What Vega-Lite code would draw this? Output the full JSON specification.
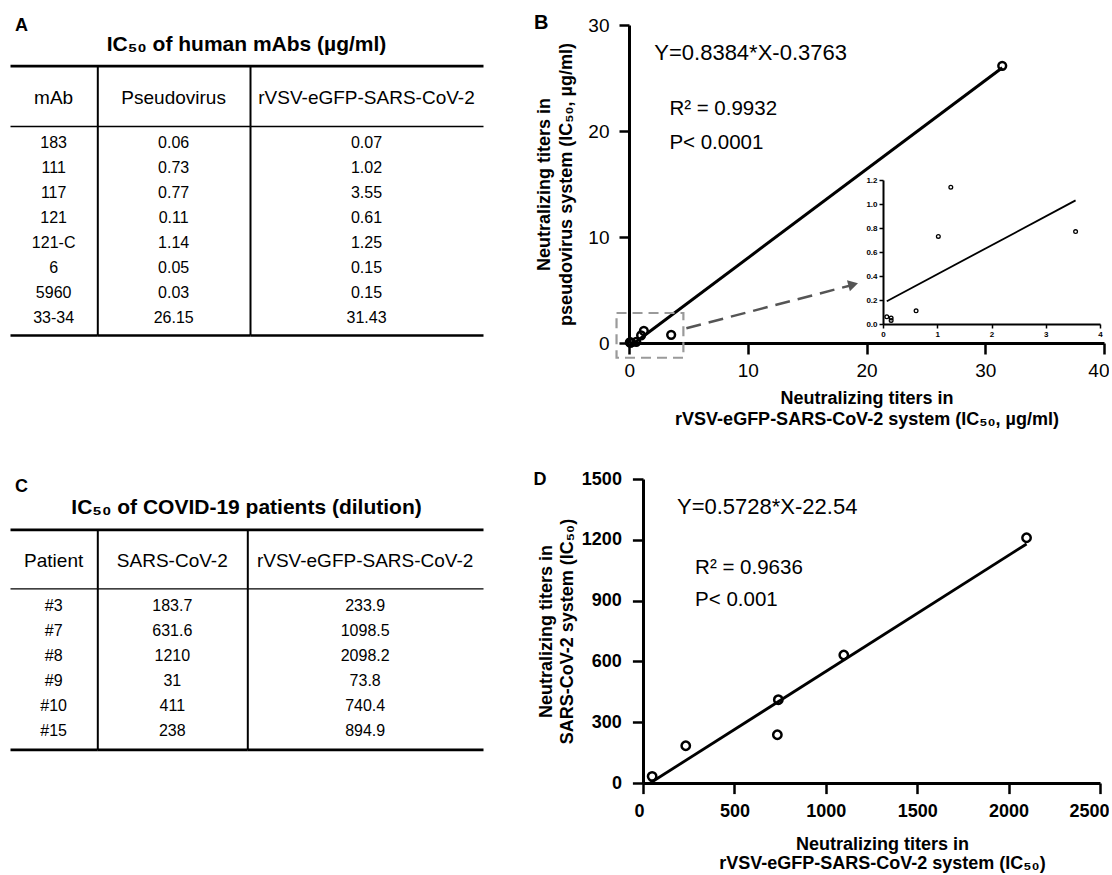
{
 "$schema": "https://vega.github.io/schema/vega-lite/v6.json",
 "padding": {"left": 10, "top": 13, "right": 0, "bottom": 0},
 "config": {
  "font": "Liberation Sans",
  "view": {"stroke": null},
  "axis": {"grid": false, "domainColor": "#000", "tickColor": "#000", "labelColor": "#000", "titleColor": "#000"},
  "text": {"color": "#000"},
  "title": {"color": "#000"}
 },
 "datasets": {
  "mabs": [
   {"mAb": "183", "pseudo": 0.06, "rvsv": 0.07},
   {"mAb": "111", "pseudo": 0.73, "rvsv": 1.02},
   {"mAb": "117", "pseudo": 0.77, "rvsv": 3.55},
   {"mAb": "121", "pseudo": 0.11, "rvsv": 0.61},
   {"mAb": "121-C", "pseudo": 1.14, "rvsv": 1.25},
   {"mAb": "6", "pseudo": 0.05, "rvsv": 0.15},
   {"mAb": "5960", "pseudo": 0.03, "rvsv": 0.15},
   {"mAb": "33-34", "pseudo": 26.15, "rvsv": 31.43}
  ],
  "patients": [
   {"Patient": "#3", "sars": 183.7, "rvsv": 233.9},
   {"Patient": "#7", "sars": 631.6, "rvsv": 1098.5},
   {"Patient": "#8", "sars": 1210, "rvsv": 2098.2},
   {"Patient": "#9", "sars": 31, "rvsv": 73.8},
   {"Patient": "#10", "sars": 411, "rvsv": 740.4},
   {"Patient": "#15", "sars": 238, "rvsv": 894.9}
  ],
  "pointsD": [
   {"rvsv": 233.9, "sars": 183.7},
   {"rvsv": 1098.5, "sars": 631.6},
   {"rvsv": 2098.2, "sars": 1210},
   {"rvsv": 50, "sars": 33},
   {"rvsv": 740.4, "sars": 411},
   {"rvsv": 735, "sars": 238}
  ],
  "fitB": [{"x": 0.449, "y": 0}, {"x": 31.43, "y": 25.97}],
  "fitInset": [{"x": 0.07, "y": 0.19}, {"x": 3.55, "y": 1.03}],
  "fitD": [{"x": 39.35, "y": 0}, {"x": 2098.2, "y": 1179.3}],
  "heads": [
   {"table": "A", "col": "mAb", "label": "mAb"},
   {"table": "A", "col": "pseudo", "label": "Pseudovirus"},
   {"table": "A", "col": "rvsv", "label": "rVSV-eGFP-SARS-CoV-2"},
   {"table": "C", "col": "Patient", "label": "Patient"},
   {"table": "C", "col": "sars", "label": "SARS-CoV-2"},
   {"table": "C", "col": "rvsv", "label": "rVSV-eGFP-SARS-CoV-2"}
  ],
  "tableTitles": [
   {"panel": "A", "title": "IC₅₀ of human mAbs (µg/ml)"},
   {"panel": "C", "title": "IC₅₀ of COVID-19 patients (dilution)"}
  ]
 },
 "spacing": 42,
 "vconcat": [
  {
   "bounds": "flush",
   "spacing": 146,
   "hconcat": [
    {
     "width": 473, "height": 318,
     "title": {"text": "A", "anchor": "start", "frame": "group", "fontSize": 18, "fontWeight": "bold", "dx": 5, "offset": -10},
     "resolve": {"scale": {"x": "independent", "y": "independent"}},
     "layer": [
      {
       "data": {"name": "tableTitles"},
       "transform": [{"filter": "datum.panel === 'A'"}],
       "mark": {"type": "text", "fontSize": 21, "fontWeight": "bold", "baseline": "middle"},
       "encoding": {
        "text": {"field": "title", "type": "nominal"},
        "x": {"field": "panel", "type": "nominal", "scale": {"range": [0, 473]}, "axis": {"orient": "top", "offset": -40.7, "domainWidth": 2.7, "ticks": false, "labels": false, "title": null}},
        "y": {"field": "panel", "type": "nominal", "scale": {"range": [0, 40.7]}, "axis": null}
       }
      },
      {
       "data": {"name": "heads"},
       "transform": [{"filter": "datum.table === 'A' && datum.col === 'mAb'"}],
       "mark": {"type": "text", "fontSize": 19, "baseline": "middle", "dy": 2},
       "encoding": {
        "text": {"field": "label", "type": "nominal"},
        "x": {"field": "col", "type": "nominal", "scale": {"range": [0, 87.3]}, "axis": {"orient": "top", "offset": -101, "domainWidth": 1.3, "ticks": false, "labels": false, "title": null}},
        "y": {"field": "col", "type": "nominal", "scale": {"range": [40.7, 101]}, "axis": null}
       }
      },
      {
       "data": {"name": "heads"},
       "transform": [{"filter": "datum.table === 'A' && datum.col === 'pseudo'"}],
       "mark": {"type": "text", "fontSize": 19, "baseline": "middle", "dy": 2},
       "encoding": {
        "text": {"field": "label", "type": "nominal"},
        "x": {"field": "col", "type": "nominal", "scale": {"range": [87.3, 240]}, "axis": {"orient": "top", "offset": -101, "domainWidth": 1.3, "ticks": false, "labels": false, "title": null}},
        "y": {"field": "col", "type": "nominal", "scale": {"range": [40.7, 101]}, "axis": {"orient": "left", "offset": -87.3, "domainWidth": 2, "ticks": false, "labels": false, "title": null}}
       }
      },
      {
       "data": {"name": "heads"},
       "transform": [{"filter": "datum.table === 'A' && datum.col === 'rvsv'"}],
       "mark": {"type": "text", "fontSize": 19, "baseline": "middle", "dy": 2},
       "encoding": {
        "text": {"field": "label", "type": "nominal"},
        "x": {"field": "col", "type": "nominal", "scale": {"range": [240, 473]}, "axis": {"orient": "top", "offset": -101, "domainWidth": 1.3, "ticks": false, "labels": false, "title": null}},
        "y": {"field": "col", "type": "nominal", "scale": {"range": [40.7, 101]}, "axis": {"orient": "left", "offset": -240, "domainWidth": 2, "ticks": false, "labels": false, "title": null}}
       }
      },
      {
       "data": {"name": "mabs"},
       "transform": [{"fold": ["mAb", "pseudo", "rvsv"]}, {"filter": "datum.key === 'mAb'"}],
       "mark": {"type": "text", "fontSize": 16, "baseline": "middle"},
       "encoding": {
        "text": {"field": "value", "type": "nominal"},
        "x": {"field": "key", "type": "nominal", "scale": {"range": [0, 87.3]}, "axis": {"orient": "bottom", "offset": -8, "domainWidth": 2.7, "ticks": false, "labels": false, "title": null}},
        "y": {"field": "mAb", "type": "nominal", "sort": null, "scale": {"type": "point", "range": [101, 310], "padding": 0.68}, "axis": null}
       }
      },
      {
       "data": {"name": "mabs"},
       "transform": [{"fold": ["mAb", "pseudo", "rvsv"]}, {"filter": "datum.key === 'pseudo'"}],
       "mark": {"type": "text", "fontSize": 16, "baseline": "middle"},
       "encoding": {
        "text": {"field": "value", "type": "nominal"},
        "x": {"field": "key", "type": "nominal", "scale": {"range": [87.3, 240]}, "axis": {"orient": "bottom", "offset": -8, "domainWidth": 2.7, "ticks": false, "labels": false, "title": null}},
        "y": {"field": "mAb", "type": "nominal", "sort": null, "scale": {"type": "point", "range": [101, 310], "padding": 0.68}, "axis": {"orient": "left", "offset": -87.3, "domainWidth": 2, "ticks": false, "labels": false, "title": null}}
       }
      },
      {
       "data": {"name": "mabs"},
       "transform": [{"fold": ["mAb", "pseudo", "rvsv"]}, {"filter": "datum.key === 'rvsv'"}],
       "mark": {"type": "text", "fontSize": 16, "baseline": "middle"},
       "encoding": {
        "text": {"field": "value", "type": "nominal"},
        "x": {"field": "key", "type": "nominal", "scale": {"range": [240, 473]}, "axis": {"orient": "bottom", "offset": -8, "domainWidth": 2.7, "ticks": false, "labels": false, "title": null}},
        "y": {"field": "mAb", "type": "nominal", "sort": null, "scale": {"type": "point", "range": [101, 310], "padding": 0.68}, "axis": {"orient": "left", "offset": -240, "domainWidth": 2, "ticks": false, "labels": false, "title": null}}
       }
      }
     ]
    },
    {
     "width": 475, "height": 318,
     "title": {"text": "B", "anchor": "start", "frame": "group", "fontSize": 20, "fontWeight": "bold", "dx": -95, "offset": -17},
     "resolve": {"scale": {"x": "independent", "y": "independent"}},
     "layer": [
      {
       "layer": [
        {
         "data": {"name": "mabs"},
         "mark": {"type": "point", "filled": false, "stroke": "#000", "strokeWidth": 2.5, "size": 60, "opacity": 1},
         "encoding": {
          "x": {"field": "rvsv", "type": "quantitative", "scale": {"domain": [0, 40], "nice": false, "zero": false},
           "axis": {"values": [0, 10, 20, 30, 40], "format": "d", "title": ["Neutralizing titers in", "rVSV-eGFP-SARS-CoV-2 system (IC₅₀, µg/ml)"], "titleFontSize": 18, "titleFontWeight": "bold", "titleLineHeight": 21, "titlePadding": 9, "labelFontSize": 19, "labelFontWeight": "normal", "labelPadding": 7, "tickSize": 11, "tickWidth": 2.5, "domainWidth": 3, "labelFlush": true, "labelFlushOffset": 5, "labelOverlap": false}},
          "y": {"field": "pseudo", "type": "quantitative", "scale": {"domain": [0, 30], "nice": false, "zero": false},
           "axis": {"values": [0, 10, 20, 30], "format": "d", "title": ["Neutralizing titers in", "pseudovirus system (IC₅₀, µg/ml)"], "titleFontSize": 18, "titleFontWeight": "bold", "titleLineHeight": 22, "titlePadding": 12, "labelFontSize": 19, "labelFontWeight": "normal", "labelPadding": 10, "tickSize": 10, "tickWidth": 2.5, "domainWidth": 3, "labelFlush": false, "labelOverlap": false}}
         }
        },
        {
         "data": {"name": "fitB"},
         "mark": {"type": "line", "stroke": "#000", "strokeWidth": 3},
         "encoding": {
          "x": {"field": "x", "type": "quantitative"},
          "y": {"field": "y", "type": "quantitative"}
         }
        },
        {
         "data": {"values": [{"label": "zoom"}]},
         "mark": {"type": "rect", "fillOpacity": 0, "stroke": "#9a9a9a", "strokeWidth": 2.2, "strokeDash": [10, 6]},
         "encoding": {
          "x": {"datum": -1.05, "type": "quantitative"},
          "x2": {"datum": 4.58},
          "y": {"datum": -1.39, "type": "quantitative"},
          "y2": {"datum": 2.83}
         }
        },
        {
         "data": {"values": [{"label": "arrow"}]},
         "mark": {"type": "rule", "stroke": "#555", "strokeWidth": 2.5, "strokeDash": [15, 8]},
         "encoding": {
          "x": {"datum": 4.83, "type": "quantitative"},
          "y": {"datum": 1.39, "type": "quantitative"},
          "x2": {"datum": 18.9},
          "y2": {"datum": 5.5}
         }
        },
        {
         "data": {"values": [{"label": "arrowhead"}]},
         "mark": {"type": "point", "shape": "triangle-right", "filled": true, "fill": "#555", "stroke": null, "size": 130, "angle": -14.7, "opacity": 1},
         "encoding": {
          "x": {"datum": 18.88, "type": "quantitative"},
          "y": {"datum": 5.51, "type": "quantitative"}
         }
        },
        {
         "data": {"values": [{"label": "Y=0.8384*X-0.3763"}]},
         "mark": {"type": "text", "align": "left", "baseline": "middle", "fontSize": 22},
         "encoding": {
          "text": {"field": "label", "type": "nominal"},
          "x": {"datum": 2.13, "type": "quantitative"},
          "y": {"datum": 27.4, "type": "quantitative"}
         }
        },
        {
         "data": {"values": [{"label": "R² = 0.9932"}]},
         "mark": {"type": "text", "align": "left", "baseline": "middle", "fontSize": 20.5},
         "encoding": {
          "text": {"field": "label", "type": "nominal"},
          "x": {"datum": 3.4, "type": "quantitative"},
          "y": {"datum": 22.05, "type": "quantitative"}
         }
        },
        {
         "data": {"values": [{"label": "P< 0.0001"}]},
         "mark": {"type": "text", "align": "left", "baseline": "middle", "fontSize": 20.5},
         "encoding": {
          "text": {"field": "label", "type": "nominal"},
          "x": {"datum": 3.4, "type": "quantitative"},
          "y": {"datum": 18.9, "type": "quantitative"}
         }
        }
       ]
      },
      {
       "layer": [
        {
         "data": {"name": "fitInset"},
         "mark": {"type": "line", "stroke": "#000", "strokeWidth": 1.8},
         "encoding": {
          "x": {"field": "x", "type": "quantitative", "scale": {"domain": [0, 4], "range": [254, 471], "nice": false, "zero": false},
           "axis": {"orient": "bottom", "offset": -19, "values": [0, 1, 2, 3, 4], "format": "d", "title": null, "labelFontSize": 8, "labelFontWeight": "bold", "labelPadding": 2, "tickSize": 4, "tickWidth": 1.5, "domainWidth": 2, "labelFlush": false, "labelOverlap": false}},
          "y": {"field": "y", "type": "quantitative", "scale": {"domain": [0, 1.2], "range": [299, 155], "nice": false, "zero": false},
           "axis": {"orient": "left", "offset": -254, "values": [0, 0.2, 0.4, 0.6, 0.8, 1, 1.2], "format": ".1f", "title": null, "labelFontSize": 8, "labelFontWeight": "bold", "labelPadding": 2, "tickSize": 4, "tickWidth": 1.5, "domainWidth": 2, "labelFlush": false, "labelOverlap": false}}
         }
        },
        {
         "data": {"name": "mabs"},
         "transform": [{"filter": "datum.rvsv < 4"}],
         "mark": {"type": "point", "filled": false, "stroke": "#000", "strokeWidth": 1.3, "size": 14, "opacity": 1},
         "encoding": {
          "x": {"field": "rvsv", "type": "quantitative"},
          "y": {"field": "pseudo", "type": "quantitative"}
         }
        }
       ]
      }
     ]
    }
   ]
  },
  {
   "bounds": "flush",
   "spacing": 160,
   "hconcat": [
    {
     "width": 473, "height": 304,
     "title": {"text": "C", "anchor": "start", "frame": "group", "fontSize": 18, "fontWeight": "bold", "dx": 5, "offset": -17},
     "resolve": {"scale": {"x": "independent", "y": "independent"}},
     "layer": [
      {
       "data": {"name": "tableTitles"},
       "transform": [{"filter": "datum.panel === 'C'"}],
       "mark": {"type": "text", "fontSize": 21, "fontWeight": "bold", "baseline": "middle"},
       "encoding": {
        "text": {"field": "title", "type": "nominal"},
        "x": {"field": "panel", "type": "nominal", "scale": {"range": [0, 473]}, "axis": {"orient": "top", "offset": -50.4, "domainWidth": 2.7, "ticks": false, "labels": false, "title": null}},
        "y": {"field": "panel", "type": "nominal", "scale": {"range": [7, 50.4]}, "axis": null}
       }
      },
      {
       "data": {"name": "heads"},
       "transform": [{"filter": "datum.table === 'C' && datum.col === 'Patient'"}],
       "mark": {"type": "text", "fontSize": 19, "baseline": "middle", "dy": 2},
       "encoding": {
        "text": {"field": "label", "type": "nominal"},
        "x": {"field": "col", "type": "nominal", "scale": {"range": [0, 87.3]}, "axis": {"orient": "top", "offset": -109.3, "domainWidth": 1.3, "ticks": false, "labels": false, "title": null}},
        "y": {"field": "col", "type": "nominal", "scale": {"range": [50.4, 109.3]}, "axis": null}
       }
      },
      {
       "data": {"name": "heads"},
       "transform": [{"filter": "datum.table === 'C' && datum.col === 'sars'"}],
       "mark": {"type": "text", "fontSize": 19, "baseline": "middle", "dy": 2},
       "encoding": {
        "text": {"field": "label", "type": "nominal"},
        "x": {"field": "col", "type": "nominal", "scale": {"range": [87.3, 237.3]}, "axis": {"orient": "top", "offset": -109.3, "domainWidth": 1.3, "ticks": false, "labels": false, "title": null}},
        "y": {"field": "col", "type": "nominal", "scale": {"range": [50.4, 109.3]}, "axis": {"orient": "left", "offset": -87.3, "domainWidth": 2, "ticks": false, "labels": false, "title": null}}
       }
      },
      {
       "data": {"name": "heads"},
       "transform": [{"filter": "datum.table === 'C' && datum.col === 'rvsv'"}],
       "mark": {"type": "text", "fontSize": 19, "baseline": "middle", "dy": 2},
       "encoding": {
        "text": {"field": "label", "type": "nominal"},
        "x": {"field": "col", "type": "nominal", "scale": {"range": [237.3, 473]}, "axis": {"orient": "top", "offset": -109.3, "domainWidth": 1.3, "ticks": false, "labels": false, "title": null}},
        "y": {"field": "col", "type": "nominal", "scale": {"range": [50.4, 109.3]}, "axis": {"orient": "left", "offset": -237.3, "domainWidth": 2, "ticks": false, "labels": false, "title": null}}
       }
      },
      {
       "data": {"name": "patients"},
       "transform": [{"fold": ["Patient", "sars", "rvsv"]}, {"filter": "datum.key === 'Patient'"}],
       "mark": {"type": "text", "fontSize": 16, "baseline": "middle"},
       "encoding": {
        "text": {"field": "value", "type": "nominal"},
        "x": {"field": "key", "type": "nominal", "scale": {"range": [0, 87.3]}, "axis": {"orient": "bottom", "offset": -33.7, "domainWidth": 2.7, "ticks": false, "labels": false, "title": null}},
        "y": {"field": "Patient", "type": "nominal", "sort": null, "scale": {"type": "point", "range": [109.3, 270.3], "padding": 0.72}, "axis": null}
       }
      },
      {
       "data": {"name": "patients"},
       "transform": [{"fold": ["Patient", "sars", "rvsv"]}, {"filter": "datum.key === 'sars'"}],
       "mark": {"type": "text", "fontSize": 16, "baseline": "middle"},
       "encoding": {
        "text": {"field": "value", "type": "nominal"},
        "x": {"field": "key", "type": "nominal", "scale": {"range": [87.3, 237.3]}, "axis": {"orient": "bottom", "offset": -33.7, "domainWidth": 2.7, "ticks": false, "labels": false, "title": null}},
        "y": {"field": "Patient", "type": "nominal", "sort": null, "scale": {"type": "point", "range": [109.3, 270.3], "padding": 0.72}, "axis": {"orient": "left", "offset": -87.3, "domainWidth": 2, "ticks": false, "labels": false, "title": null}}
       }
      },
      {
       "data": {"name": "patients"},
       "transform": [{"fold": ["Patient", "sars", "rvsv"]}, {"filter": "datum.key === 'rvsv'"}],
       "mark": {"type": "text", "fontSize": 16, "baseline": "middle"},
       "encoding": {
        "text": {"field": "value", "type": "nominal"},
        "x": {"field": "key", "type": "nominal", "scale": {"range": [237.3, 473]}, "axis": {"orient": "bottom", "offset": -33.7, "domainWidth": 2.7, "ticks": false, "labels": false, "title": null}},
        "y": {"field": "Patient", "type": "nominal", "sort": null, "scale": {"type": "point", "range": [109.3, 270.3], "padding": 0.72}, "axis": {"orient": "left", "offset": -237.3, "domainWidth": 2, "ticks": false, "labels": false, "title": null}}
       }
      }
     ]
    },
    {
     "width": 457, "height": 304,
     "title": {"text": "D", "anchor": "start", "frame": "group", "fontSize": 18, "fontWeight": "bold", "dx": -109.5, "offset": -19},
     "layer": [
      {
       "data": {"name": "pointsD"},
       "mark": {"type": "point", "filled": false, "stroke": "#000", "strokeWidth": 2.5, "size": 70, "opacity": 1},
       "encoding": {
        "x": {"field": "rvsv", "type": "quantitative", "scale": {"domain": [0, 2500], "nice": false, "zero": false},
         "axis": {"values": [0, 500, 1000, 1500, 2000, 2500], "format": "d", "title": ["Neutralizing titers in", "rVSV-eGFP-SARS-CoV-2 system (IC₅₀)"], "titleFontSize": 18, "titleFontWeight": "bold", "titleLineHeight": 19, "titlePadding": 15, "titleX": 239, "labelFontSize": 18, "labelFontWeight": "bold", "labelPadding": 9, "tickSize": 10.6, "tickWidth": 2.5, "domainWidth": 3, "labelFlush": true, "labelFlushOffset": 9, "labelOverlap": false}},
        "y": {"field": "sars", "type": "quantitative", "scale": {"domain": [0, 1500], "nice": false, "zero": false},
         "axis": {"values": [0, 300, 600, 900, 1200, 1500], "format": "d", "title": ["Neutralizing titers in", "SARS-CoV-2 system (IC₅₀)"], "titleFontSize": 18, "titleFontWeight": "bold", "titleLineHeight": 20.5, "titlePadding": 5, "labelFontSize": 18, "labelFontWeight": "bold", "labelPadding": 11, "tickSize": 10.6, "tickWidth": 2.5, "domainWidth": 3, "labelFlush": false, "labelOverlap": false}}
       }
      },
      {
       "data": {"name": "fitD"},
       "mark": {"type": "line", "stroke": "#000", "strokeWidth": 2.8},
       "encoding": {
        "x": {"field": "x", "type": "quantitative"},
        "y": {"field": "y", "type": "quantitative"}
       }
      },
      {
       "data": {"values": [{"label": "Y=0.5728*X-22.54"}]},
       "mark": {"type": "text", "align": "left", "baseline": "middle", "fontSize": 22},
       "encoding": {
        "text": {"field": "label", "type": "nominal"},
        "x": {"datum": 186, "type": "quantitative"},
        "y": {"datum": 1364, "type": "quantitative"}
       }
      },
      {
       "data": {"values": [{"label": "R² = 0.9636"}]},
       "mark": {"type": "text", "align": "left", "baseline": "middle", "fontSize": 20.5},
       "encoding": {
        "text": {"field": "label", "type": "nominal"},
        "x": {"datum": 285, "type": "quantitative"},
        "y": {"datum": 1059, "type": "quantitative"}
       }
      },
      {
       "data": {"values": [{"label": "P< 0.001"}]},
       "mark": {"type": "text", "align": "left", "baseline": "middle", "fontSize": 20.5},
       "encoding": {
        "text": {"field": "label", "type": "nominal"},
        "x": {"datum": 285, "type": "quantitative"},
        "y": {"datum": 903, "type": "quantitative"}
       }
      }
     ]
    }
   ]
  }
 ]
}
